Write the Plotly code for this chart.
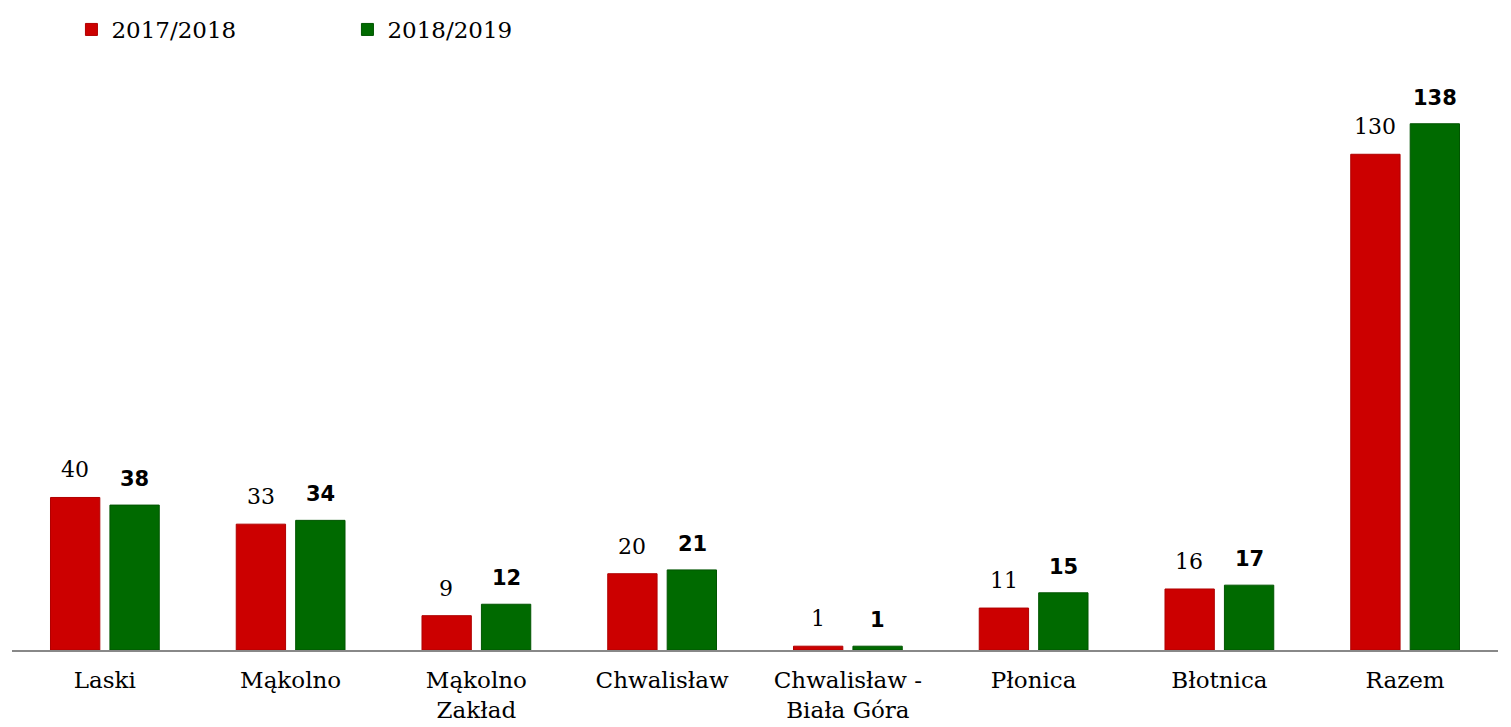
import plotly.graph_objects as go

categories = ["Laski", "Mąkolno", "Mąkolno<br>Zakład", "Chwalisław", "Chwalisław -<br>Biała Góra",
              "Płonica", "Błotnica", "Razem"]
series_names = ["2017/2018", "2018/2019"]
values_2017 = [40, 33, 9, 20, 1, 11, 16, 130]
values_2018 = [38, 34, 12, 21, 1, 15, 17, 138]

serif = "DejaVu Serif"
fig = go.Figure()
fig.add_trace(go.Bar(
    x=categories, y=values_2017, name=series_names[0],
    marker=dict(color="#CC0000", line=dict(color="#B00000", width=1)),
))
fig.add_trace(go.Bar(
    x=categories, y=values_2018, name=series_names[1],
    marker=dict(color="#006A00", line=dict(color="#005500", width=1)),
))

# value labels above bars (placed at data coordinates, shifted to each bar of the group)
annotations = []
for c, v in zip(categories, values_2017):
    annotations.append(dict(x=c, y=v, xref="x", yref="y", text=str(v), showarrow=False,
                            xshift=-30, yshift=13, yanchor="bottom",
                            font=dict(family=serif, size=22, color="#000000")))
for c, v in zip(categories, values_2018):
    annotations.append(dict(x=c, y=v, xref="x", yref="y", text="<b>%d</b>" % v, showarrow=False,
                            xshift=30, yshift=12, yanchor="bottom",
                            font=dict(family="DejaVu Sans", size=21, color="#000000")))

fig.update_layout(
    width=1511, height=727,
    margin=dict(l=4, r=21, t=70, b=85, autoexpand=False),
    paper_bgcolor="white", plot_bgcolor="white",
    barmode="group", bargap=0.36, bargroupgap=0.17,
    font=dict(family=serif, size=23, color="#000000"),
    showlegend=True,
    annotations=annotations,
    legend=dict(orientation="h", x=0.04, y=1.0, xref="paper", yref="container",
                xanchor="left", yanchor="top",
                font=dict(family=serif, size=23), traceorder="normal",
                entrywidth=231, entrywidthmode="pixels"),
    xaxis=dict(showline=True, linecolor="#888888", linewidth=2, ticks="",
               tickfont=dict(family=serif, size=23), showgrid=False,
               ticklabelstandoff=8),
    yaxis=dict(range=[0, 150], visible=False, showgrid=False),
)
fig.write_html("out.html")
